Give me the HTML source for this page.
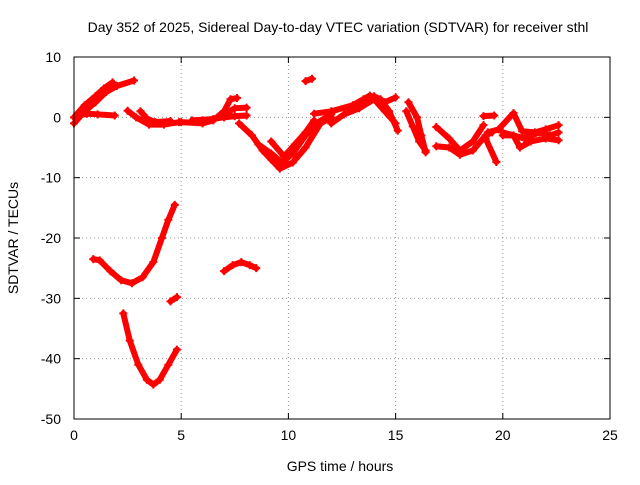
<!DOCTYPE html>
<html><head><meta charset="utf-8"><style>
body{margin:0;background:#fff}
svg text{font-family:"Liberation Sans",sans-serif;font-size:14px;fill:#000}
</style></head><body>
<svg id="chart" width="640" height="480" viewBox="0 0 640 480" xmlns="http://www.w3.org/2000/svg">
<rect width="640" height="480" fill="#fff"/>
<text x="338" y="32" text-anchor="middle">Day 352 of 2025, Sidereal Day-to-day VTEC variation (SDTVAR) for receiver sthl</text>
<text x="340" y="471" text-anchor="middle">GPS time / hours</text>
<text transform="translate(18,238) rotate(-90)" text-anchor="middle">SDTVAR / TECUs</text>
<g id="grid"></g><g id="ticks"></g><g id="marks"></g>
<rect x="74" y="57" width="536" height="362" fill="none" stroke="#000" stroke-width="1"/>
</svg>
<script>
const xTicks=[0,5,10,15,20,25];
const yTicks=[10,0,-10,-20,-30,-40,-50];
const trackA1=[[0,-1],[0.5,1],[1,2.5],[1.5,4.2],[2,5.2],[2.8,6.1]];
const trackA2=[[0,0],[0.5,2],[1,3.5],[1.4,4.8],[1.8,5.8]];
const trackA3=[[0.2,0.3],[0.6,0.6],[1.1,0.5],[1.9,0.3]];
const trackB1=[[2.5,1.1],[2.9,0],[3.5,-1.2],[4.2,-1.2],[4.9,-0.8]];
const trackB2=[[3.1,1],[3.4,-0.2],[3.8,-0.8],[4.5,-0.6]];
const trackC1=[[5,-0.8],[6,-1],[6.5,-0.5],[7,1],[7.3,3],[7.6,3.2]];
const trackC2=[[5.5,-0.5],[6.5,-0.3],[7,0.5],[7.5,1.5],[8.05,1.6]];
const trackC3=[[6,-0.5],[7,0],[7.5,0.2],[8.05,0.3]];
const trackD1=[[7.7,-1],[8.3,-3],[8.8,-5.5],[9.2,-7],[9.6,-8.5],[10.2,-7.5],[10.8,-5],[11.5,-1],[12,0]];
const trackD2=[[8.6,-4.5],[9.2,-6],[9.7,-7.5],[10.2,-6],[10.8,-3],[11.3,-1],[12,0.5]];
const trackD3=[[9.2,-4],[9.8,-6.5],[10.3,-4.5],[10.8,-2.5],[11.2,-0.5]];
const trackE=[[10.8,6],[11.1,6.4]];
const trackF1=[[11.2,0.6],[12,1],[13,2],[13.8,3.6],[14.3,3],[14.7,1],[15.1,-2.2]];
const trackF2=[[12,-1],[12.6,0.5],[13.3,1.5],[14,3],[14.5,1],[15,-1]];
const trackF3=[[13.5,3],[14,3.5],[14.5,2.5],[15,3.3]];
const trackG1=[[15.6,2.5],[16,0],[16.2,-3],[16.4,-5.8]];
const trackG2=[[15.5,1],[15.8,-1.5],[16.1,-4],[16.4,-5.5]];
const trackH1=[[16.9,-1.6],[17.5,-3.5],[18,-5.5],[18.6,-4],[19.1,-1.3]];
const trackH2=[[16.9,-4.8],[17.5,-5],[18,-6.2],[18.6,-5.5],[19.2,-3],[19.5,-2.5]];
const trackH3=[[19.1,0.2],[19.6,0.3]];
const trackH4=[[19.2,-3.5],[19.7,-7.4]];
const trackI1=[[19.3,-2.5],[19.8,-2],[20.5,0.7],[20.9,-2.3],[21.5,-2.5],[22,-2],[22.6,-1.3]];
const trackI2=[[20,-3],[20.5,-3],[20.8,-5],[21.3,-4],[22,-3.5],[22.6,-3.8]];
const trackI3=[[20,-2.5],[21,-3.5],[21.7,-2.5],[22.2,-3],[22.6,-2.5]];
const trackJ=[[0.9,-23.5],[1.2,-23.7],[1.7,-25.5],[2.2,-27],[2.7,-27.5],[3.2,-26.5],[3.7,-24],[4.1,-20],[4.4,-17],[4.7,-14.5]];
const trackK=[[4.5,-30.5],[4.8,-29.8]];
const trackL=[[2.3,-32.5],[2.6,-37],[3,-41],[3.4,-43.5],[3.7,-44.3],[4,-43.5],[4.4,-41],[4.8,-38.5]];
const trackM=[[7,-25.5],[7.4,-24.5],[7.8,-24],[8.2,-24.5],[8.5,-25]];
const tracks=[trackA1,trackA2,trackA3,trackB1,trackB2,trackC1,trackC2,trackC3,trackD1,trackD2,trackD3,trackE,trackF1,trackF2,trackF3,trackG1,trackG2,trackH1,trackH2,trackH3,trackH4,trackI1,trackI2,trackI3,trackJ,trackK,trackL,trackM];
const X0=74,X1=610,Y0=57,Y1=419;
function xs(v){return X0+(v-0)/(25-0)*(X1-X0);}
function ys(v){return Y1-(v+50)/60*(Y1-Y0);}
const NS="http://www.w3.org/2000/svg";
const g=document.getElementById('grid'),tk=document.getElementById('ticks'),mk=document.getElementById('marks');
function el(n,a,p){const e=document.createElementNS(NS,n);for(const k in a)e.setAttribute(k,a[k]);p.appendChild(e);return e;}
xTicks.forEach(t=>{const x=xs(t);
 if(t>0&&t<25){const l=el('line',{x1:x,x2:x,y1:Y0,y2:Y1,stroke:'#999','stroke-dasharray':'1,3'},g);
 
 }
 el('line',{x1:x,x2:x,y1:Y1,y2:Y1-6,stroke:'#000'},tk);
 el('line',{x1:x,x2:x,y1:Y0,y2:Y0+6,stroke:'#000'},tk);
 const tx=el('text',{x:x,y:Y1+21,'text-anchor':'middle'},tk);tx.textContent=t;
 
 });
yTicks.forEach(t=>{const y=ys(t);
 if(t<10&&t>-50){const l=el('line',{x1:X0,x2:X1,y1:y,y2:y,stroke:'#999','stroke-dasharray':'1,3'},g);
 
 }
 el('line',{x1:X0,x2:X0+6,y1:y,y2:y,stroke:'#000'},tk);
 el('line',{x1:X1,x2:X1-6,y1:y,y2:y,stroke:'#000'},tk);
 const tx=el('text',{x:X0-13,y:y+5,'text-anchor':'end'},tk);tx.textContent=t;
 
 });
tracks.forEach(tr=>{
 const p=el('polyline',{points:tr.map(d=>xs(d[0])+','+ys(d[1])).join(' '),fill:'none',stroke:'#f00','stroke-width':6,'stroke-linejoin':'round','stroke-linecap':'round'},mk);
 
 
 tr.forEach(d=>{const x=xs(d[0]),y=ys(d[1]);
  const m=el('path',{d:`M${x-4},${y}H${x+4}M${x},${y-4}V${y+4}`,stroke:'#f00','stroke-width':2},mk);
  
  });
});
</script>
</body></html>
